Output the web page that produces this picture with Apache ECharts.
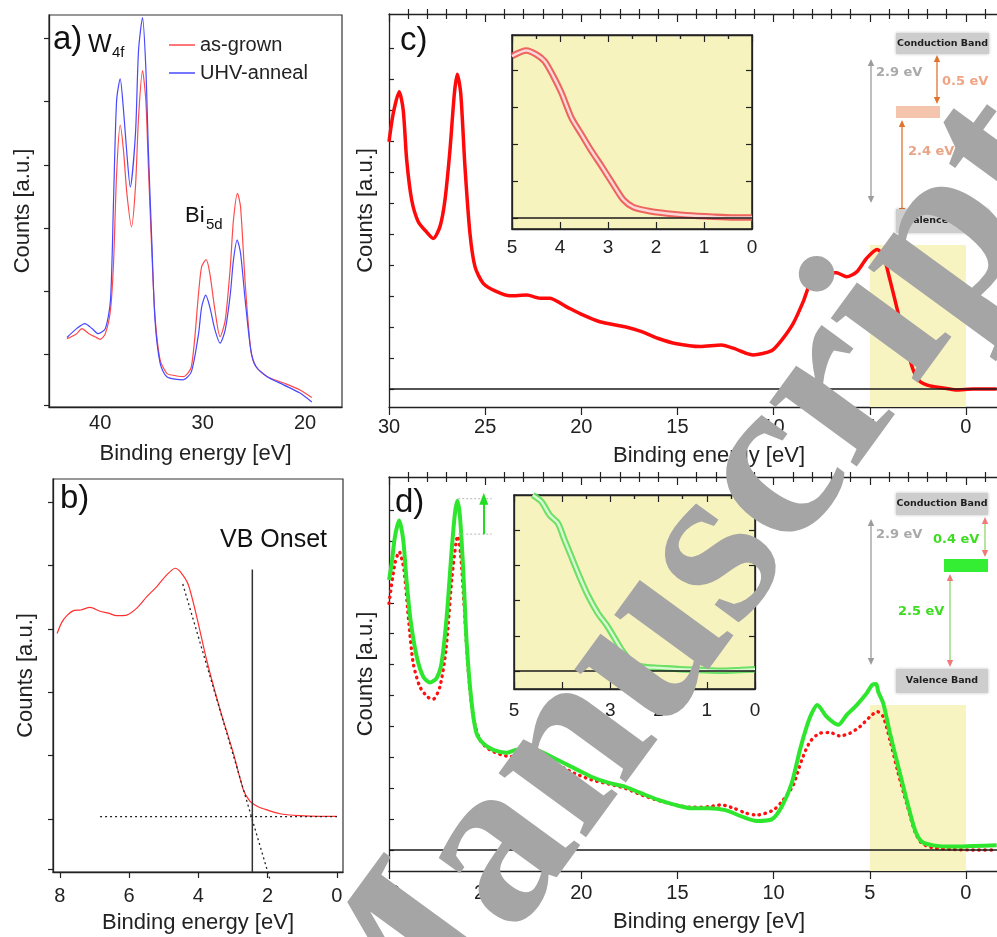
<!DOCTYPE html>
<html>
<head>
<meta charset="utf-8">
<script src="https://cdn.jsdelivr.net/npm/echarts@6/dist/echarts.min.js"></script>
<style>
  html, body { margin: 0; background: #fff; }
  #chart { width: 997px; height: 937px; }
</style>
</head>
<body>
<div id="chart"></div>
<script>
// ---- tick positions ----
const aTicksX = [20, 30, 40];
const aTicksY = [2, 83, 183, 283, 383, 483, 583];
const bTicksX = [0, 2, 4, 6, 8];
const bTicksY = [4, 84, 184, 284, 384, 484, 584];
const cdMajorX = [0, 5, 10, 15, 20, 25, 30];
const cdMinorX = [-3, -2, -1, 1, 2, 3, 4, 6, 7, 8, 9, 11, 12, 13, 14, 16, 17, 18, 19, 21, 22, 23, 24, 26, 27, 28, 29];
const cdTicksY = [0, 1, 2, 3, 4, 5, 6, 7, 8, 9, 10, 11];
const insetMajorX = [0, 1, 2, 3, 4, 5];
const insetMinorX = [0.5, 1.5, 2.5, 3.5, 4.5];
const insetTicksY = [0, 1, 2, 3, 4];

// ---- a) W4f / Bi5d core levels [eV, counts] ----
const aGrown = [[43.25,108],[42.3,116],[41.8,124],[41.1,116],[40.5,111],[40.0,107],[39.5,116],[39.0,153],[38.7,228],[38.4,369],[38.05,446],[37.73,406],[37.4,338],[36.95,285],[36.56,348],[36.26,458],[35.87,532],[35.55,485],[35.3,380],[34.97,248],[34.65,143],[34.15,74],[33.5,53],[33.2,51],[31.9,48],[31.1,64],[30.4,180],[30.1,222],[29.66,233],[29.3,211],[28.8,153],[28.3,111],[27.8,137],[27.3,222],[27.0,295],[26.6,338],[26.3,316],[25.85,196],[25.3,90],[24.8,64],[23.7,48],[22.1,38],[20.5,27],[19.35,15]];
const aAnneal = [[43.25,110],[42.3,124],[41.5,132],[40.8,124],[40.2,116],[39.5,124],[39.0,169],[38.7,327],[38.4,485],[38.05,519],[37.73,470],[37.4,401],[37.07,348],[36.56,432],[36.26,564],[35.87,616],[35.55,537],[35.3,406],[34.97,264],[34.65,137],[34.15,69],[33.5,48],[31.9,43],[31.1,56],[30.4,116],[30.1,158],[29.7,177],[29.3,158],[28.8,122],[28.3,101],[27.8,122],[27.3,179],[27.0,232],[26.63,264],[26.3,243],[25.85,169],[25.3,90],[24.8,64],[23.7,48],[22.1,35],[20.5,22],[19.35,8]];

// ---- b) valence band onset ----
const bSpectrum = [[8.08,377],[7.95,394],[7.8,405],[7.61,413],[7.4,414],[7.13,418],[6.84,412],[6.6,409],[6.36,405],[6.07,406],[5.78,417],[5.49,435],[5.2,451],[4.92,469],[4.67,480],[4.53,475],[4.29,454],[4.05,404],[3.76,335],[3.37,256],[2.99,188],[2.7,130],[2.51,112],[2.3,104],[2.12,100],[1.64,92],[1.06,89],[0.5,88],[0,88]];
const bBaseline = [[6.84,87.4],[-0.05,87.4]];
const bTangent = [[4.45,455],[1.93,-12]];
const bOnset = [[2.44,0],[2.44,478]];

// ---- c) as-grown valence band ----
const cSpectrum = [[30,7.98],[29.78,8.89],[29.47,9.59],[29.26,9.0],[29.08,7.39],[28.82,6.1],[28.48,5.4],[28.05,5.07],[27.7,4.86],[27.35,5.24],[27.09,6.1],[26.83,7.71],[26.6,9.54],[26.45,10.16],[26.27,9.54],[26.05,7.17],[25.79,5.02],[25.53,3.95],[25.1,3.41],[24.4,3.14],[23.7,3.01],[22.84,3.03],[22.15,2.93],[21.66,2.93],[20.79,2.66],[19.92,2.39],[19.04,2.17],[17.73,2.01],[16.86,1.85],[15.99,1.63],[15.12,1.47],[13.82,1.37],[12.72,1.42],[12.07,1.31],[11.42,1.15],[11.06,1.1],[10.1,1.24],[9.58,1.58],[8.98,2.12],[8.46,2.82],[8.02,3.52],[7.42,3.76],[6.72,3.75],[6.2,3.62],[5.68,3.78],[5.16,4.22],[4.61,4.5],[4.3,4.32],[3.95,3.52],[3.52,2.44],[3.08,1.36],[2.74,0.61],[2.39,0.24],[1.87,0.1],[1.0,0.02],[0.48,-0.03],[-0.38,0],[-1.6,0]];
const cInset = [[5.0,4.37],[4.7,4.52],[4.49,4.41],[4.32,4.23],[4.14,3.83],[3.97,3.38],[3.76,2.7],[3.55,2.25],[3.34,1.8],[3.13,1.39],[2.89,0.9],[2.68,0.49],[2.47,0.29],[2.12,0.18],[1.77,0.12],[1.36,0.07],[0.8,0.03],[0.38,0.01],[0,0.01]];
const cWindow = [5, 0];
const cWindowTop = 4.65;

// ---- d) UHV-annealed vs as-grown ----
const dAnneal = [[30,8.74],[29.87,9.22],[29.69,10.14],[29.47,10.66],[29.26,10.03],[29.09,8.74],[28.88,7.44],[28.56,6.26],[28.22,5.61],[27.87,5.42],[27.53,5.56],[27.27,6.04],[27.0,7.55],[26.74,9.71],[26.57,10.9],[26.45,11.3],[26.31,10.79],[26.14,9.06],[25.96,6.69],[25.7,4.75],[25.45,3.78],[25.1,3.45],[24.58,3.24],[23.89,3.15],[23.37,3.24],[22.5,3.24],[22.1,3.18],[21.22,2.91],[20.35,2.64],[19.48,2.37],[18.61,2.18],[17.74,2.05],[16.86,1.83],[15.99,1.62],[15.12,1.46],[14.25,1.35],[13.38,1.35],[12.51,1.29],[11.64,1.08],[10.88,0.94],[10.1,0.99],[9.58,1.4],[9.06,2.16],[8.63,3.24],[8.28,3.99],[8.02,4.42],[7.73,4.69],[7.24,4.31],[6.64,4.05],[6.2,4.37],[5.68,4.69],[5.16,5.07],[4.88,5.34],[4.66,5.37],[4.56,5.12],[4.3,4.75],[3.95,3.78],[3.52,2.7],[3.08,1.62],[2.65,0.65],[2.3,0.27],[1.7,0.15],[0.66,0.11],[-0.38,0.13],[-1.6,0.15]];
const dGrown = [[30,7.98],[29.69,9.28],[29.47,9.65],[29.22,9.06],[28.98,7.44],[28.74,6.04],[28.4,5.29],[28.01,4.96],[27.7,4.88],[27.35,5.29],[27.04,6.47],[26.74,8.74],[26.52,9.93],[26.43,10.16],[26.28,9.6],[26.1,7.98],[25.88,5.83],[25.62,4.31],[25.27,3.56],[24.75,3.24],[23.89,3.04],[22.85,3.02],[22.1,2.97],[21.22,2.75],[20.35,2.48],[19.48,2.27],[18.61,2.14],[17.74,2.0],[16.86,1.78],[15.99,1.6],[15.12,1.46],[14.25,1.38],[13.38,1.4],[12.72,1.46],[12.07,1.35],[11.42,1.19],[10.88,1.13],[10.02,1.29],[9.5,1.62],[8.98,2.1],[8.54,2.91],[8.11,3.5],[7.59,3.78],[7.07,3.8],[6.55,3.69],[6.03,3.78],[5.51,3.99],[4.99,4.31],[4.61,4.48],[4.3,4.31],[3.95,3.56],[3.52,2.48],[3.08,1.51],[2.65,0.59],[2.3,0.22],[1.7,0.07],[0.66,0.02],[-0.38,0],[-1.6,0]];
const dInset = [[4.61,5.0],[4.43,4.81],[4.26,4.43],[4.09,4.2],[3.95,3.72],[3.81,3.25],[3.64,2.68],[3.47,2.16],[3.26,1.64],[3.08,1.31],[2.91,0.93],[2.74,0.55],[2.53,0.22],[2.32,0.12],[1.98,0.09],[1.56,0.05],[1.14,0.03],[0.73,0.01],[0.31,0.03],[0,0.05]];
const dWindowTop = 4.69;
const dPeakLevels = [11.37, 10.22];
const dPeakSpan = [26.4, 24.66];
const dArrowX = 25.07;

const chart = echarts.init(document.getElementById('chart'));

const AX = '#222';
const FONT = '"Liberation Sans", Arial, sans-serif';
const BOLD = '"DejaVu Sans", Verdana, sans-serif';
const nameStyle = { fontSize: 22, color: '#222', fontFamily: FONT };

function valAxis(o) {
  return Object.assign({
    type: 'value',
    splitLine: { show: false },
    axisLine: { show: true, onZero: false, lineStyle: { color: AX, width: 1.3 } },
    axisTick: { show: false },
    axisLabel: { show: false }
  }, o);
}
function ticks(values, len, inside) {
  return { show: true, customValues: values, length: len, inside: !!inside, lineStyle: { color: AX, width: 1.2 } };
}
function labels(values, size, margin) {
  return { show: true, customValues: values, fontSize: size, color: '#222', fontFamily: FONT, margin: margin };
}
const noLine = { show: false, onZero: false };

// x axes for the wide panels (c and d), 4 per grid: bottom major, bottom minor, top major, top minor
function wideX(grid, labelMargin, nameGap) {
  const base = { gridIndex: grid, min: -3.28, max: 30, inverse: true };
  return [
    valAxis(Object.assign({}, base, {
      axisTick: ticks(cdMajorX, 8), axisLabel: labels(cdMajorX, 20, labelMargin),
      name: 'Binding energy [eV]', nameLocation: 'middle', nameGap: nameGap, nameTextStyle: nameStyle
    })),
    valAxis(Object.assign({}, base, { axisLine: noLine, axisTick: ticks(cdMinorX, 5) })),
    valAxis(Object.assign({}, base, { position: 'top', axisTick: ticks(cdMajorX, 8, true) })),
    valAxis(Object.assign({}, base, { position: 'top', axisLine: noLine, axisTick: ticks(cdMinorX, 5, true) }))
  ];
}
function insetX(grid, labelMargin) {
  const base = { gridIndex: grid, min: 0, max: 5, inverse: true };
  return [
    valAxis(Object.assign({}, base, { axisTick: ticks(insetMajorX, 7, true), axisLabel: labels(insetMajorX, 19, labelMargin) })),
    valAxis(Object.assign({}, base, { axisLine: noLine, axisTick: ticks(insetMinorX, 4, true) })),
    valAxis(Object.assign({}, base, { position: 'top', axisTick: ticks(insetMajorX, 7, true) })),
    valAxis(Object.assign({}, base, { position: 'top', axisLine: noLine, axisTick: ticks(insetMinorX, 4, true) }))
  ];
}

const xAxis = [
  valAxis({ gridIndex: 0, min: 16.4, max: 45, inverse: true, axisLabel: labels(aTicksX, 20, 6),
    name: 'Binding energy [eV]', nameLocation: 'middle', nameGap: 36, nameTextStyle: nameStyle }),
  valAxis({ gridIndex: 1, min: -0.18, max: 8.2, inverse: true, axisTick: ticks(bTicksX, 6), axisLabel: labels(bTicksX, 20, 14),
    name: 'Binding energy [eV]', nameLocation: 'middle', nameGap: 40, nameTextStyle: nameStyle })
].concat(wideX(2, 10, 38), insetX(3, 9), wideX(4, 12, 40), insetX(5, 12));
// indices: 0 a, 1 b, 2-5 c, 6-9 c inset, 10-13 d, 14-17 d inset

const yAxis = [
  valAxis({ gridIndex: 0, min: 0, max: 620, axisTick: ticks(aTicksY, 5),
    name: 'Counts [a.u.]', nameLocation: 'middle', nameGap: 15, nameTextStyle: nameStyle }),
  valAxis({ gridIndex: 1, min: 0, max: 621, axisTick: ticks(bTicksY, 5),
    name: 'Counts [a.u.]', nameLocation: 'middle', nameGap: 16, nameTextStyle: nameStyle }),
  valAxis({ gridIndex: 2, min: -0.58, max: 12.1, axisTick: ticks(cdTicksY, 5, true),
    name: 'Counts [a.u.]', nameLocation: 'middle', nameGap: 12, nameTextStyle: nameStyle }),
  valAxis({ gridIndex: 3, min: -0.3, max: 4.94, axisTick: ticks(insetTicksY, 6, true) }),
  valAxis({ gridIndex: 3, min: -0.3, max: 4.94, position: 'right', axisTick: ticks(insetTicksY, 6, true) }),
  valAxis({ gridIndex: 4, min: -0.68, max: 12.07, axisTick: ticks(cdTicksY, 5, true),
    name: 'Counts [a.u.]', nameLocation: 'middle', nameGap: 12, nameTextStyle: nameStyle }),
  valAxis({ gridIndex: 5, min: -0.51, max: 5.0, axisTick: ticks(insetTicksY, 6, true) }),
  valAxis({ gridIndex: 5, min: -0.51, max: 5.0, position: 'right', axisTick: ticks(insetTicksY, 6, true) })
];

const boxGrid = { show: true, borderColor: '#333', borderWidth: 1.2, outerBoundsMode: 'none' };
const grid = [
  Object.assign({ left: 49, top: 15, width: 293, height: 392 }, boxGrid),
  Object.assign({ left: 53, top: 479, width: 290, height: 393 }, boxGrid),
  { left: 389, top: 14, width: 640, height: 393, outerBoundsMode: 'none' },
  Object.assign({ left: 512, top: 35, width: 240, height: 194, backgroundColor: '#f7f3bf' }, boxGrid, { borderColor: '#222', borderWidth: 1.5 }),
  { left: 389, top: 477, width: 640, height: 394, outerBoundsMode: 'none' },
  Object.assign({ left: 514, top: 495, width: 241, height: 194, backgroundColor: '#f7f3bf' }, boxGrid, { borderColor: '#222', borderWidth: 1.5 })
];

function line(name, data, xi, yi, color, width, extra) {
  return Object.assign({
    name: name, type: 'line', data: data, xAxisIndex: xi, yAxisIndex: yi,
    symbol: 'none', showSymbol: false, smooth: 0.25, silent: true,
    lineStyle: { color: color, width: width }, itemStyle: { color: color }, z: 3
  }, extra || {});
}
function baseline() {
  return { silent: true, symbol: 'none', label: { show: false },
    lineStyle: { color: '#1a1a1a', width: 1.5, type: 'solid' }, data: [{ yAxis: 0 }] };
}
function windowArea(top, bottom) {
  return { silent: true, itemStyle: { color: '#f8f4c1' },
    data: [[{ coord: [cWindow[0], top] }, { coord: [cWindow[1], bottom] }]] };
}

const series = [
  // a)
  line('as-grown', aGrown, 0, 0, '#ff4a4a', 1.2),
  line('UHV-anneal', aAnneal, 0, 0, '#4848ff', 1.2),
  // b)
  line('b spectrum', bSpectrum, 1, 1, '#ff3030', 1.2),
  line('b base', bBaseline, 1, 1, '#222', 1.3, { smooth: false, lineStyle: { color: '#222', width: 1.3, type: [2, 3] } }),
  line('b tangent', bTangent, 1, 1, '#222', 1.3, { smooth: false, clip: false, lineStyle: { color: '#222', width: 1.3, type: [2, 3] } }),
  line('b onset', bOnset, 1, 1, '#333', 1.5, { smooth: false }),
  // c)
  line('c window', [], 2, 2, '#f8f4c1', 0, { z: 1, markArea: windowArea(cWindowTop, -0.58) }),
  line('c spectrum', cSpectrum, 2, 2, '#ff0a0a', 3.5, { markLine: baseline() }),
  line('c inset', cInset, 6, 3, 'rgba(236,84,84,0.9)', 6.5, { markLine: baseline() }),
  line('c inset core', cInset, 6, 3, '#fbd9d9', 2.4),
  // d)
  line('d window', [], 10, 5, '#f8f4c1', 0, { z: 1, markArea: windowArea(dWindowTop, -0.68) }),
  line('d grown', dGrown, 10, 5, '#ff1010', 3.2, { markLine: baseline(),
    lineStyle: { color: '#ff1010', width: 3.4, type: [0.5, 5.5], cap: 'round' } }),
  line('d anneal', dAnneal, 10, 5, '#2fe62f', 4),
  line('d peak top', [[dPeakSpan[0], dPeakLevels[0]], [dPeakSpan[1], dPeakLevels[0]]], 10, 5, '#bbb', 1,
    { smooth: false, lineStyle: { color: '#c4c4c4', width: 1.2, type: [2, 2] } }),
  line('d peak bottom', [[dPeakSpan[0], dPeakLevels[1]], [dPeakSpan[1], dPeakLevels[1]]], 10, 5, '#bbb', 1,
    { smooth: false, lineStyle: { color: '#c4c4c4', width: 1.2, type: [2, 2] },
      markLine: { silent: true, symbol: ['none', 'triangle'], symbolSize: [9, 12], label: { show: false },
        lineStyle: { color: '#22dd22', width: 2, type: 'solid' },
        data: [[{ coord: [dArrowX, dPeakLevels[1]] }, { coord: [dArrowX, dPeakLevels[0]] }]] } }),
  line('d inset', dInset, 14, 6, 'rgba(96,222,96,0.92)', 6.5, { markLine: baseline() }),
  line('d inset core', dInset, 14, 6, '#dcf8d2', 2.4)
];

// band-diagram helpers (schematic drawing)
function vArrow(x, y1, y2, color, head) {
  head = head || color;
  return [
    { type: 'line', silent: true, z: 20, shape: { x1: x, y1: y1 + 4, x2: x, y2: y2 - 4 }, style: { stroke: color, lineWidth: 1.3 } },
    { type: 'polygon', silent: true, z: 20, shape: { points: [[x, y1], [x - 3.2, y1 + 7], [x + 3.2, y1 + 7]] }, style: { fill: head } },
    { type: 'polygon', silent: true, z: 20, shape: { points: [[x, y2], [x - 3.2, y2 - 7], [x + 3.2, y2 - 7]] }, style: { fill: head } }
  ];
}
function bandBox(x, y, w, h, label) {
  return [
    { type: 'rect', silent: true, z: 20, shape: { x: x, y: y, width: w, height: h },
      style: { fill: '#cdcdcd', shadowBlur: 3, shadowColor: 'rgba(0,0,0,0.25)' } },
    { type: 'text', silent: true, z: 21, x: x + w / 2, y: y + h / 2,
      style: { text: label, font: 'bold 9.5px ' + BOLD, fill: '#1e1e1e', align: 'center', verticalAlign: 'middle' } }
  ];
}
function txt(s, x, y, size, color) {
  return { type: 'text', silent: true, z: 21, x: x, y: y,
    style: { text: s, font: size + 'px ' + FONT, fill: color || '#111', align: 'left', verticalAlign: 'middle' } };
}
function boldTxt(s, x, y, color) {
  return { type: 'text', silent: true, z: 21, x: x, y: y,
    style: { text: s, font: 'bold 13px ' + BOLD, fill: color, align: 'left', verticalAlign: 'middle' } };
}

const graphic = [].concat(
  [
    txt('a)', 53, 40, 33), txt('W', 88, 45, 25), txt('4f', 112, 53, 15),
    txt('Bi', 185, 216, 22), txt('5d', 206, 225, 15),
    txt('b)', 60, 499, 33), txt('VB Onset', 220, 540, 25),
    txt('c)', 400, 41, 33), txt('d)', 395, 503, 33)
  ],
  // c) band scheme
  bandBox(896, 33, 93, 21, 'Conduction Band'),
  vArrow(871, 59, 203, '#9c9c9c'),
  [boldTxt('2.9 eV', 876, 73, '#a9a9a9')],
  vArrow(937, 55, 104, '#e0742f'),
  [boldTxt('0.5 eV', 942, 82, '#f0a484')],
  [{ type: 'rect', silent: true, z: 20, shape: { x: 896, y: 106, width: 44, height: 12 }, style: { fill: '#f5c4ac' } }],
  vArrow(902, 120, 215, '#e0742f'),
  [boldTxt('2.4 eV', 908, 152, '#e8a487')],
  bandBox(896, 209, 93, 24, 'Valence Band'),
  // d) band scheme
  bandBox(896, 493, 92, 22, 'Conduction Band'),
  vArrow(871, 519, 665, '#9c9c9c'),
  [boldTxt('2.9 eV', 876, 535, '#a9a9a9')],
  vArrow(985, 517, 557, '#8fd46a', '#f07a7a'),
  [boldTxt('0.4 eV', 933, 540, '#3ddc22')],
  [{ type: 'rect', silent: true, z: 20, shape: { x: 944, y: 559, width: 44, height: 13 }, style: { fill: '#33ee33' } }],
  vArrow(950, 574, 667, '#8fd46a', '#f07a7a'),
  [boldTxt('2.5 eV', 898, 612, '#3ddc22')],
  bandBox(896, 669, 92, 24, 'Valence Band'),
  // watermark
  [{ type: 'text', silent: true, z: 100, x: 680, y: 605, rotation: 0.94,
     style: { text: 'Manuscript', font: 'bold 236px "Liberation Serif", serif', fill: '#a5a5a5',
              align: 'center', verticalAlign: 'middle', blend: 'multiply' } }]
);

chart.setOption({
  animation: false,
  backgroundColor: '#fff',
  textStyle: { fontFamily: FONT },
  legend: {
    data: ['as-grown', 'UHV-anneal'], orient: 'vertical', left: 164, top: 29,
    icon: 'rect', itemWidth: 26, itemHeight: 1.5, itemGap: 6, selectedMode: false,
    textStyle: { fontSize: 20, color: '#222', fontFamily: FONT, lineHeight: 22 }
  },
  grid: grid,
  xAxis: xAxis,
  yAxis: yAxis,
  series: series,
  graphic: graphic
});
</script>
</body>
</html>
